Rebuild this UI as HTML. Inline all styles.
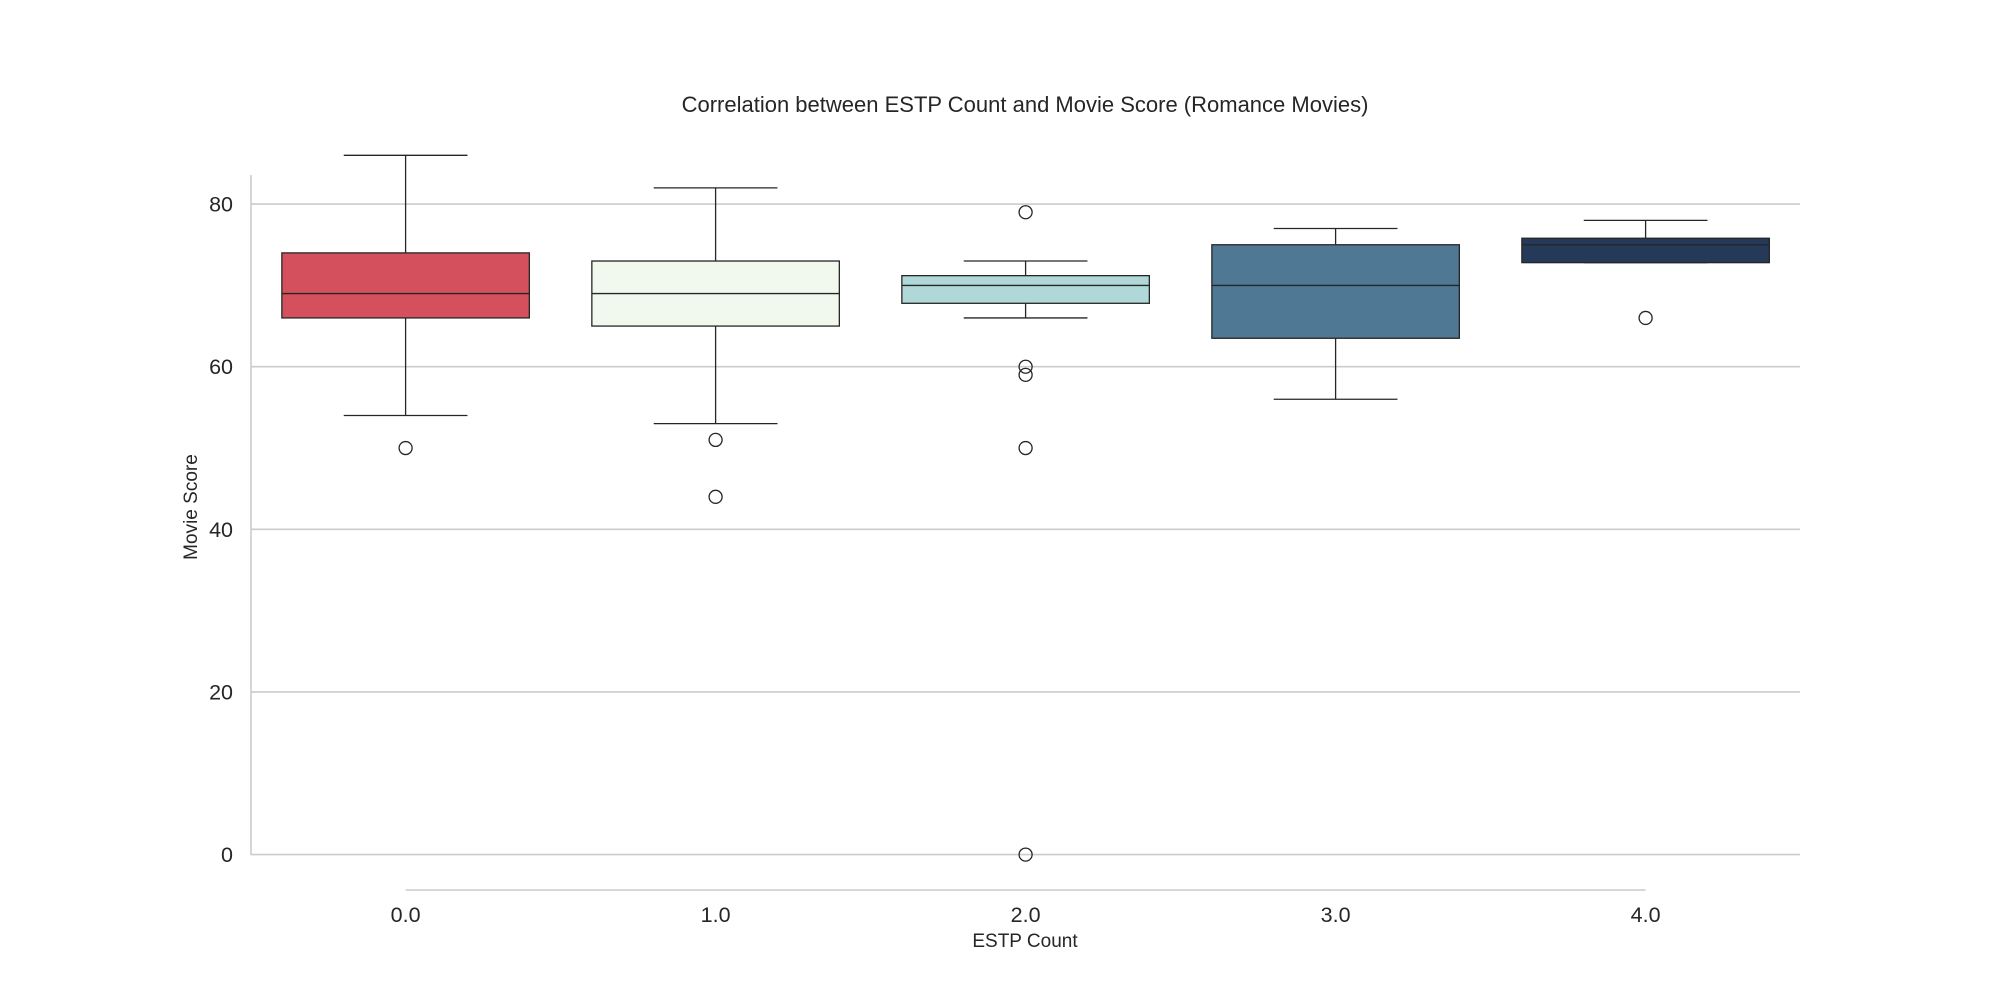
<!DOCTYPE html>
<html><head><meta charset="utf-8"><style>body{margin:0;background:#fff}svg{display:block;font-family:"Liberation Sans",sans-serif}</style></head>
<body>
<svg id="chart" width="2000" height="1000"></svg>
<script>
const categories = ["0.0","1.0","2.0","3.0","4.0"];
const whiskerLow = [54,53,66,56,72.8];
const q1Values = [66,65,67.8,63.5,72.8];
const medians = [69,69,70,70,75];
const q3Values = [74,73,71.2,75,75.8];
const whiskerHigh = [86,82,73,77,78];
const outliers = [[50],[51,44],[79,60,59,50,0],[],[66]];
const yTicks = [0,20,40,60,80];
const colors = ["#d4505c","#f1f8ee","#b0d8d8","#4e7894","#253958"];

const svg = document.getElementById('chart');
const NS = 'http://www.w3.org/2000/svg';
const x0 = 405.6, dx = 310, bw = 247.5;
const xs = i => x0 + i*dx;
const ys = v => 854.6 - v*(854.6-204.1)/80;
function mk(tag, attrs, parent){const e=document.createElementNS(NS,tag);for(const k in attrs)e.setAttribute(k,attrs[k]);(parent||svg).appendChild(e);return e;}

yTicks.forEach(t=>{
  const g = mk('line',{x1:251,x2:1800,y1:ys(t),y2:ys(t),stroke:'#cccccc','stroke-width':1.6});
  
  
  const l = mk('text',{x:233,y:ys(t)+7.5,'text-anchor':'end','font-size':21.5,fill:'#262626'});
  l.textContent = t;
  
  
});
const lsp = mk('line',{x1:251,x2:251,y1:175,y2:855,stroke:'#cccccc','stroke-width':1.6});


const bsp = mk('line',{x1:xs(0),x2:xs(4),y1:890,y2:890,stroke:'#cccccc','stroke-width':1.6});



categories.forEach((c,i)=>{
  const cx = xs(i), st = {stroke:'#262626','stroke-width':1.3};
  const g = mk('g',{});
  
  
  mk('line',Object.assign({x1:cx,x2:cx,y1:ys(whiskerLow[i]),y2:ys(q1Values[i])},st),g);
  mk('line',Object.assign({x1:cx,x2:cx,y1:ys(whiskerHigh[i]),y2:ys(q3Values[i])},st),g);
  mk('line',Object.assign({x1:cx-bw/4,x2:cx+bw/4,y1:ys(whiskerLow[i]),y2:ys(whiskerLow[i])},st),g);
  mk('line',Object.assign({x1:cx-bw/4,x2:cx+bw/4,y1:ys(whiskerHigh[i]),y2:ys(whiskerHigh[i])},st),g);
  mk('rect',Object.assign({x:cx-bw/2,y:ys(q3Values[i]),width:bw,height:ys(q1Values[i])-ys(q3Values[i]),fill:colors[i]},st),g);
  mk('line',Object.assign({x1:cx-bw/2,x2:cx+bw/2,y1:ys(medians[i]),y2:ys(medians[i])},st),g);
  outliers[i].forEach(v=>{
    const o = mk('circle',{cx:cx,cy:ys(v),r:6.5,fill:'none',stroke:'#262626','stroke-width':1.3},g);
    
    
  });
  const t = mk('text',{x:cx,y:922,'text-anchor':'middle','font-size':21.5,fill:'#262626'});
  t.textContent = c;
  
  
});
const title = mk('text',{x:1025,y:112,'text-anchor':'middle','font-size':22,fill:'#262626'});
title.textContent = 'Correlation between ESTP Count and Movie Score (Romance Movies)';


const xl = mk('text',{x:1025,y:947,'text-anchor':'middle','font-size':19,fill:'#262626'});
xl.textContent = 'ESTP Count';


const yl = mk('text',{x:197,y:507,'text-anchor':'middle','font-size':19,fill:'#262626',transform:'rotate(-90 197 507)'});
yl.textContent = 'Movie Score';


</script>
</body></html>
